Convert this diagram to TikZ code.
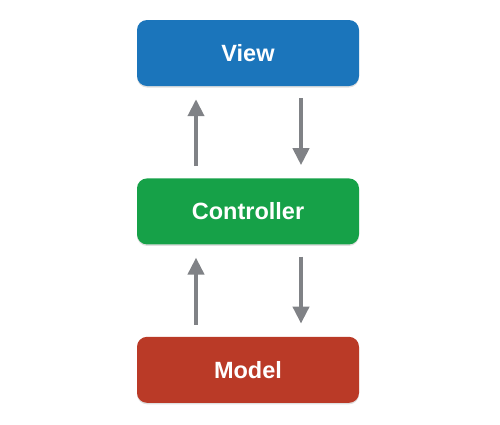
\documentclass[tikz,border=0pt]{standalone}
\usepackage{fontspec}
\setmainfont{Liberation Sans}
\usetikzlibrary {arrows.meta,positioning,shadows}
\definecolor{viewblue}{RGB}{27,117,187}
\definecolor{ctrlgreen}{RGB}{22,161,72}
\definecolor{modelred}{RGB}{186,58,39}
\definecolor{flowgray}{RGB}{128,130,134}
\begin{document}
\begin{tikzpicture}[x=1pt, y=1pt, node distance= 92pt]
      \useasboundingbox (0,0) rectangle (500,-424);
      \begin{scope}[every node/.style={rounded corners=10pt, minimum width=222pt,
          minimum height=66pt, text=white, font=\fontsize{23.5}{28}\selectfont\bfseries,
          drop shadow={shadow xshift=0pt, shadow yshift=-1.5pt, opacity=0.25}}]
        \node (V) [fill=viewblue] at (248,-53) {View};
        \node (C) [fill=ctrlgreen, below= of V] {Controller};
        \node (M) [fill=modelred, below= of C] {Model};
      \end{scope}
      \begin{scope}
        [every edge/.style={draw= flowgray, line width= 4pt,
          -{Triangle[width=16pt, length=17pt]}, shorten <= 12pt, shorten >= 13pt}]
        \path ([xshift=-52pt]C.north) edge ([xshift=-52pt]V.south);
        \path ([xshift=53pt]V.south) edge ([xshift=53pt]C.north);
        \path ([xshift=-52pt]M.north) edge ([xshift=-52pt]C.south);
        \path ([xshift=53pt]C.south) edge ([xshift=53pt]M.north);
      \end{scope}
    \end{tikzpicture}
\end{document}
